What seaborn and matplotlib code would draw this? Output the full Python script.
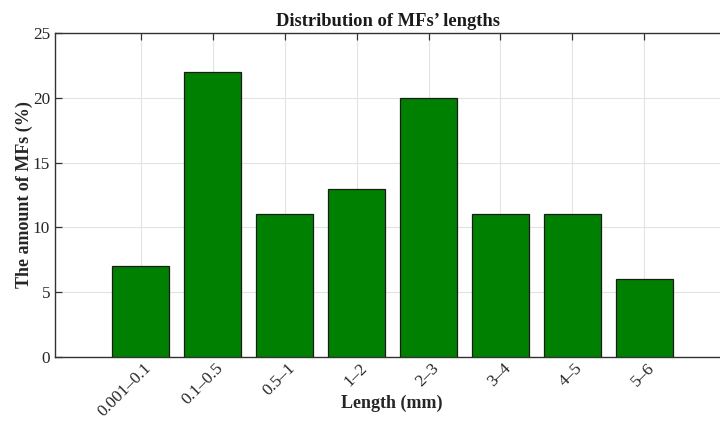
import matplotlib
matplotlib.use("Agg")
import matplotlib.pyplot as plt
import matplotlib.transforms as mtransforms
import seaborn as sns
import pandas as pd

categories = ["0.001–0.1", "0.1–0.5", "0.5–1", "1–2", "2–3", "3–4", "4–5", "5–6"]
values = [7, 22, 11, 13, 20, 11, 11, 6]
yticks = [0, 5, 10, 15, 20, 25]

sns.set_theme(style="white")
plt.rcParams["font.family"] = ["Liberation Serif", "DejaVu Serif"]

df = pd.DataFrame({"Length": categories, "Amount": values})

fig = plt.figure(figsize=(7.2, 4.21), dpi=100)
ax = fig.add_axes([55 / 720, 1 - 357 / 421, 1 - 55 / 720, (357 - 33) / 421])

sns.barplot(data=df, x="Length", y="Amount", order=categories, color="#008000",
            saturation=1, width=0.8, edgecolor="#1a1a1a", linewidth=0.9, ax=ax, zorder=3)

ax.set_xlim(-1.19, 8.05)
ax.set_ylim(0, 25)
ax.set_yticks(yticks)
ax.set_yticklabels([str(v) for v in yticks])
ax.set_xticks(range(len(categories)))
ax.set_xticklabels(categories, rotation=45, ha="right", va="center", rotation_mode="anchor")

ax.grid(True, color="#e3e3e3", linewidth=0.8, zorder=0)
ax.set_axisbelow(True)

for side in ["left", "bottom", "top"]:
    ax.spines[side].set_visible(True)
    ax.spines[side].set_color("#333333")
    ax.spines[side].set_linewidth(1.0)
ax.spines["right"].set_visible(False)

ax.tick_params(axis="both", direction="in", length=5, width=0.9, color="#333333",
               labelsize=12.4, labelcolor="#262626")
ax.tick_params(axis="x", top=True, bottom=True, pad=6.5)
ax.tick_params(axis="y", left=True, right=False, pad=3.5)

offset = mtransforms.ScaledTranslation(8 / 100, 0, fig.dpi_scale_trans)
for lbl in ax.get_xticklabels():
    lbl.set_transform(lbl.get_transform() + offset)

ax.set_xlabel("Length (mm)", fontsize=13, fontweight="bold", color="#262626")
ax.xaxis.set_label_coords(0.507, -0.115)
ax.set_ylabel("The amount of MFs (%)", fontsize=13, fontweight="bold", color="#262626", labelpad=0)
ax.set_title("Distribution of MFs’ lengths", fontsize=13.3, fontweight="bold", color="#1a1a1a", pad=5)

fig.savefig("out.png", dpi=100)
